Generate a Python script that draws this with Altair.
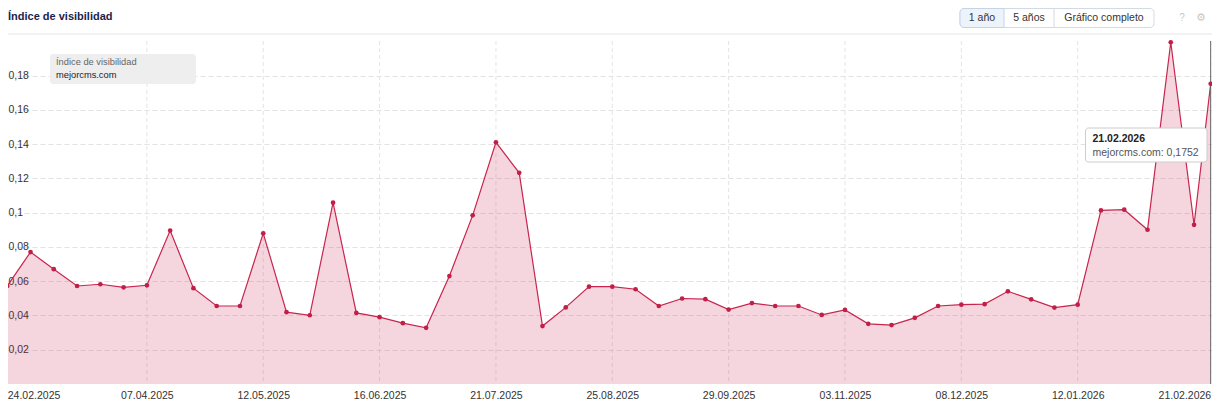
import altair as alt
import pandas as pd

# ---------------- data ----------------
first_week = "2025-02-17"
n_weeks = 53
last_date = "2026-02-21"
visibility = [0.148, 0.0572, 0.077, 0.067, 0.0572, 0.0582, 0.0564, 0.0576, 0.0895, 0.0559,
              0.0455, 0.0455, 0.0879, 0.0419, 0.0401, 0.1058, 0.0415, 0.039, 0.0355, 0.0328,
              0.063, 0.0984, 0.141, 0.1232, 0.0338, 0.0447, 0.0568, 0.0568, 0.0553, 0.0455,
              0.0499, 0.0495, 0.0434, 0.0472, 0.0455, 0.0455, 0.0403, 0.0432, 0.0351, 0.0344,
              0.0386, 0.0455, 0.0463, 0.0466, 0.0541, 0.0494, 0.0446, 0.0463, 0.1013, 0.1017,
              0.09, 0.1994, 0.0929, 0.1752]
site = "mejorcms.com"
label_dates = ["2025-02-24", "2025-04-07", "2025-05-12", "2025-06-16", "2025-07-21",
               "2025-08-25", "2025-09-29", "2025-11-03", "2025-12-08", "2026-01-12", "2026-02-21"]
y_ticks = [0.02, 0.04, 0.06, 0.08, 0.1, 0.12, 0.14, 0.16, 0.18]
title_text = "Índice de visibilidad"
legend_title = "Índice de visibilidad"
buttons = ["1 año", "5 años", "Gráfico completo"]
tooltip_date = "21.02.2026"

# ---------------- tables ----------------
dates = [d.strftime("%Y-%m-%dT00:00:00") for d in pd.date_range(first_week, periods=n_weeks, freq="7D")]
dates.append(last_date + "T00:00:00")
df = pd.DataFrame({"date": dates, "value": visibility})
ticks_df = pd.DataFrame({"date": [d + "T00:00:00" for d in label_dates]})
last_df = df.iloc[[-1]]
one = pd.DataFrame({"k": [0]})

FONT = "Liberation Sans"
LINE = "#c8254e"
W, H = 1204, 376
PLOT_TOP = 33


def dt(s, h=0, m=0):
    y, mo, d = map(int, s.split("-"))
    return alt.DateTime(year=y, month=mo, date=d, hours=h, minutes=m)


x_scale = alt.Scale(domain=[dt("2025-02-21", 19, 34), dt("2026-02-21", 9, 36)], range=[-8, W])
y_scale = alt.Scale(domain=[0, 0.2], range=[H, 33.25], nice=False)

x_axis = alt.Axis(values=[dt(s) for s in label_dates], format="%d.%m.%Y", labelFlush=10,
                  grid=False, ticks=False, tickSize=0, domain=False, labelPadding=6,
                  labelFont=FONT, labelFontSize=10.5, labelColor="#333333", title=None,
                  labelOverlap=False)
y_axis = alt.Axis(values=y_ticks, grid=True, gridColor="#e2e2e2", gridDash=[5, 3],
                  ticks=False, tickSize=0, domain=False, labelAlign="left", labelPadding=0,
                  labelBaseline="middle",
                  labelExpr="replace(format(datum.value, '~g'), '.', ',')",
                  labelFont=FONT, labelFontSize=10.5, labelColor="#333333", title=None)

X = alt.X("date:T", scale=x_scale, axis=x_axis)
Y = alt.Y("value:Q", scale=y_scale, axis=y_axis)

vgrid = alt.Chart(ticks_df).mark_rule(color="#e4e4e4", strokeDash=[4, 3], strokeWidth=1).encode(
    x=X, y=alt.value(PLOT_TOP), y2=alt.value(H))

area = alt.Chart(df).mark_area(color=LINE, opacity=0.19).encode(x=X, y=Y)
line = alt.Chart(df).mark_line(color=LINE, strokeWidth=1.2).encode(x=X, y=Y)
points = alt.Chart(df).mark_circle(color="#c01f48", size=22, opacity=1).encode(x=X, y=Y)

crosshair = alt.Chart(last_df).mark_rule(color="#666666", strokeWidth=1).encode(
    x=X, y=alt.value(PLOT_TOP), y2=alt.value(H))

# ---------------- header ----------------
sep = alt.Chart(one).mark_rule(color="#e6e6e6", strokeWidth=1).encode(
    x=alt.value(-8), x2=alt.value(W), y=alt.value(26))
title = alt.Chart(one).mark_text(text=title_text, align="left", baseline="middle", font=FONT,
                                 fontSize=11, fontWeight="bold", color="#1b1e4b").encode(
    x=alt.value(0), y=alt.value(9))

btn_outer = alt.Chart(one).mark_rect(fill="white", stroke="#d3dae4", strokeWidth=1, cornerRadius=4).encode(
    x=alt.value(952), x2=alt.value(1146), y=alt.value(0.5), y2=alt.value(19.5))
btn_sel = alt.Chart(one).mark_rect(fill="#edf3fb", stroke="#c6d3e6", strokeWidth=1,
                                   cornerRadiusTopLeft=4, cornerRadiusBottomLeft=4).encode(
    x=alt.value(952), x2=alt.value(996), y=alt.value(0.5), y2=alt.value(19.5))
btn_div = alt.Chart(one).mark_rule(color="#d3dae4").encode(
    x=alt.value(1046), y=alt.value(0.5), y2=alt.value(19.5))
btn_centers = [974, 1021, 1096]
btn_texts = [
    alt.Chart(one).mark_text(text=b, align="center", baseline="middle", font=FONT,
                             fontSize=10.5, color="#333333").encode(x=alt.value(cx), y=alt.value(10))
    for b, cx in zip(buttons, btn_centers)
]
help_icon = alt.Chart(one).mark_text(text="?", align="center", baseline="middle", font=FONT,
                                     fontSize=10, color="#c8c8c8").encode(x=alt.value(1174), y=alt.value(10))
gear_icon = alt.Chart(one).mark_text(text="⚙", align="center", baseline="middle", font="DejaVu Sans",
                                     fontSize=11, color="#c8c8c8").encode(x=alt.value(1193), y=alt.value(10))

# ---------------- legend box ----------------
leg_box = alt.Chart(one).mark_rect(fill="#eeeeee", cornerRadius=3).encode(
    x=alt.value(42), x2=alt.value(188), y=alt.value(46), y2=alt.value(76))
leg_t1 = alt.Chart(one).mark_text(text=legend_title, align="left", baseline="middle", font=FONT,
                                  fontSize=9.3, color="#666666").encode(x=alt.value(48), y=alt.value(54.3))
leg_t2 = alt.Chart(one).mark_text(text=site, align="left", baseline="middle", font=FONT,
                                  fontSize=9.3, color="#222222").encode(x=alt.value(48), y=alt.value(67))

# ---------------- tooltip ----------------
tip_box = alt.Chart(one).mark_rect(fill="white", stroke="#cccccc", strokeWidth=1, cornerRadius=3).encode(
    x=alt.value(1077.5), x2=alt.value(1199), y=alt.value(120), y2=alt.value(154))
tip_t1 = alt.Chart(one).mark_text(text=tooltip_date, align="left", baseline="middle", font=FONT,
                                  fontSize=10.5, fontWeight="bold", color="#222222").encode(
    x=alt.value(1084.5), y=alt.value(130.5))
tip_t2 = alt.Chart(one).mark_text(text=f"{site}: {str(visibility[-1]).replace('.', ',')}", align="left",
                                  baseline="middle", font=FONT, fontSize=10.5, color="#555555").encode(
    x=alt.value(1084.5), y=alt.value(144.5))

chart = alt.layer(
    vgrid, area, line, crosshair, points,
    sep, title, btn_outer, btn_sel, btn_div, *btn_texts, help_icon, gear_icon,
    leg_box, leg_t1, leg_t2,
    tip_box, tip_t1, tip_t2,
).properties(
    width=W, height=H,
    autosize=alt.AutoSizeParams(type="none"),
    padding={"left": 0, "top": 0, "right": 0, "bottom": 18},
).configure(background="white").configure_view(stroke=None)

chart.save("out.html", embed_options={"renderer": "svg", "actions": False})
